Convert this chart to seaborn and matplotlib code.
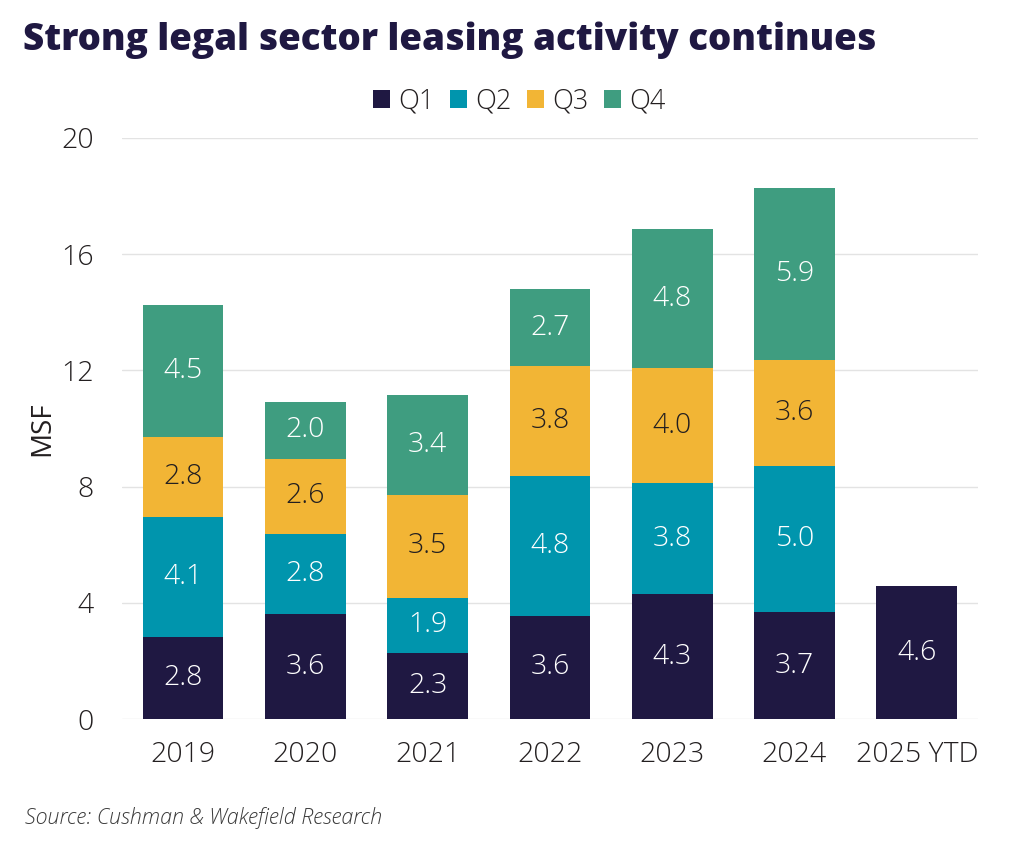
import pandas as pd
import numpy as np
import matplotlib
matplotlib.use("Agg")
import matplotlib.pyplot as plt
import seaborn as sns

# Data (MSF per quarter)
years = ["2019", "2020", "2021", "2022", "2023", "2024", "2025 YTD"]
quarters = ["Q1", "Q2", "Q3", "Q4"]
q1 = [2.84, 3.61, 2.26, 3.56, 4.30, 3.68, 4.58]
q2 = [4.10, 2.76, 1.92, 4.81, 3.82, 5.02, 0.0]
q3 = [2.77, 2.58, 3.52, 3.77, 3.96, 3.64, 0.0]
q4 = [4.53, 1.97, 3.44, 2.67, 4.78, 5.92, 0.0]

colors = {"Q1": "#1f1842", "Q2": "#0095ad", "Q3": "#f2b535", "Q4": "#3f9d80"}
label_colors = {"Q1": "white", "Q2": "white", "Q3": "#231f20", "Q4": "white"}

df = pd.DataFrame({"year": years, "Q1": q1, "Q2": q2, "Q3": q3, "Q4": q4})

sns.set_theme(style="white")
plt.rcParams["font.family"] = ["Open Sans", "DejaVu Sans"]
plt.rcParams["font.weight"] = "light"

fig = plt.figure(figsize=(10.24, 8.41), dpi=100)
ax = fig.add_axes([0.119, 0.145, 0.836, 0.691])

bottom = np.zeros(len(years))
for q in quarters:
    vals = df[q].to_numpy()
    sns.barplot(x=df["year"], y=vals, bottom=bottom, color=colors[q],
                width=0.66, ax=ax, label=q, saturation=1, linewidth=0)
    for i, v in enumerate(vals):
        if v > 0:
            ax.text(i, bottom[i] + v / 2, f"{v:.1f}", ha="center", va="center",
                    fontsize=20.5, color=label_colors[q])
    bottom = bottom + vals

ax.set_ylim(0, 20)
ax.set_xlim(-0.5, 6.5)
ax.set_yticks([0, 4, 8, 12, 16, 20])
ax.yaxis.grid(True, color="#e3e3e3", linewidth=1)
ax.set_axisbelow(True)
for s in ax.spines.values():
    s.set_visible(False)
ax.tick_params(axis="both", labelsize=20.5, colors="#231f20", length=0)
ax.tick_params(axis="y", pad=20)
ax.tick_params(axis="x", pad=16)
ax.set_xlabel("")
ax.set_ylabel("MSF", fontsize=20, color="#231f20", labelpad=4)

handles, labels = ax.get_legend_handles_labels()
if ax.legend_:
    ax.legend_.remove()
fig.legend(handles, labels, loc="center", bbox_to_anchor=(0.507, 0.879), ncol=4,
           frameon=False, fontsize=19.5, handlelength=0.65, handleheight=0.65,
           handletextpad=0.3, columnspacing=0.55, labelcolor="#231f20")

fig.text(0.022, 0.975, "Strong legal sector leasing activity continues",
         fontsize=26.5, fontweight="heavy", color="#1f1842", va="top", ha="left")
fig.text(0.024, 0.027, "Source: Cushman & Wakefield Research", fontsize=15.5,
         style="italic", color="#3a3a3a", ha="left", va="center")

fig.savefig("out.png", dpi=100)
